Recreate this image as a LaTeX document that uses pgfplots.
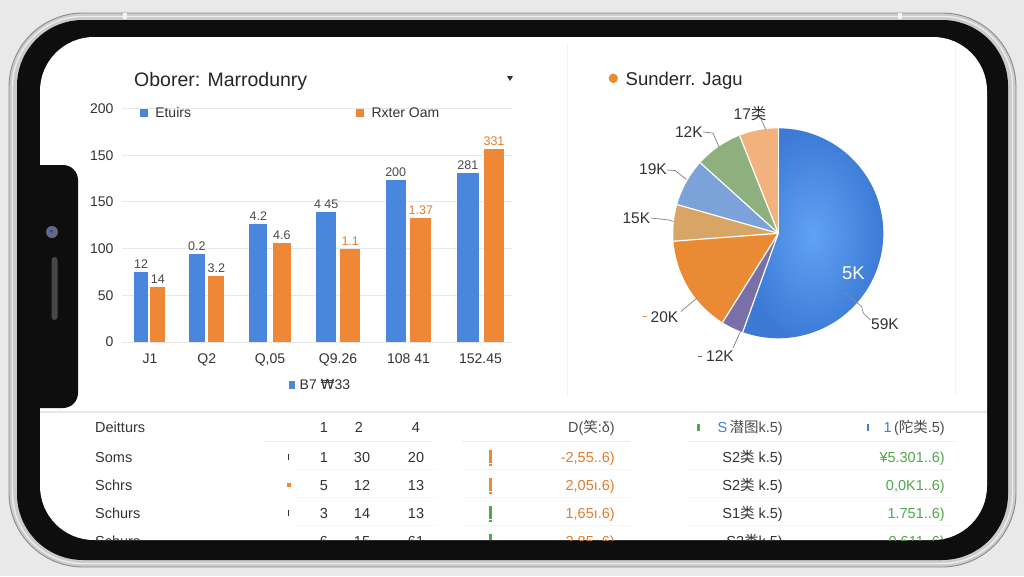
\documentclass[border=0pt]{standalone}
\usepackage{fontspec}
\setmainfont{Liberation Sans}
\newfontfamily\cjk{Noto Sans CJK SC}
\newfontfamily\dejavu{DejaVu Sans}
\usepackage{pgfplots}
\pgfplotsset{compat=1.18}
\definecolor{bgray}{HTML}{E9E9E9}
\definecolor{rim}{HTML}{CBCBCB}
\definecolor{bezel}{HTML}{0E0E0E}
\definecolor{txt}{HTML}{333333}
\definecolor{txtl}{HTML}{4A4A4A}
\definecolor{barblue}{HTML}{4A86DC}
\definecolor{barorange}{HTML}{EE8836}
\definecolor{lblorange}{HTML}{E07E2C}
\definecolor{tgreen}{HTML}{4FA84A}
\definecolor{tblue}{HTML}{3F7FD8}
\definecolor{pblue}{HTML}{4E8DE6}
\definecolor{ppurple}{HTML}{7A70A8}
\definecolor{porange}{HTML}{EA8A35}
\definecolor{ptan}{HTML}{D7A565}
\definecolor{plblue}{HTML}{7BA2D9}
\definecolor{pgreen}{HTML}{8EB07F}
\definecolor{ppeach}{HTML}{F2B27E}
\newcommand\fs[1]{\fontsize{#1}{#1}\selectfont}
% pie shares (percent)
\def\pA{55.5}\def\pB{3.4}\def\pC{14.9}\def\pD{5.6}\def\pE{7.3}\def\pF{7.3}\def\pG{6.0}
\begin{document}
\begin{tikzpicture}
\useasboundingbox (0pt,0pt) rectangle (1024pt,-576pt);
\begin{scope}[x=1pt,y=-1pt]
\fill[bgray] (0,0) rectangle (1024,576);
\fill[rim, rounded corners=74pt] (9,13) rectangle (1016,567);
\draw[black!45, line width=0.9pt, rounded corners=74pt] (9,13) rectangle (1016,567);
\draw[white!85!gray, line width=1.4pt, rounded corners=70pt] (12.5,16.5) rectangle (1012.5,563.5);
\fill[white!92!gray] (123,12.5) rectangle (127,19);
\fill[white!92!gray] (898,12.5) rectangle (902,19);
\fill[bezel, rounded corners=66pt] (17,20) rectangle (1008,560);
\fill[white, rounded corners=54pt] (40,37) rectangle (987,540);
\draw[black!6, line width=1pt] (567,45) -- (567,395);
\draw[black!5, line width=1pt] (955,45) -- (955,395);
\draw[black!9, line width=1.5pt] (40,412) -- (987,412);
% titles
\node[anchor=base west, inner sep=0pt, text=black!85] at (134,86) {\fs{19.5}Oborer: Marrodunry};
\fill[txt] (507,76) -- (513,76) -- (510,81) -- cycle;
\fill[porange] (613.3,78.3) circle (4.7);
\node[anchor=base west, inner sep=0pt, text=black!85] at (625.5,85) {\fs{18.5}Sunderr. Jagu};
% bottom legend of bar chart
\fill[barblue] (288.5,380.5) rectangle (295,389);
\node[anchor=base west, inner sep=0pt, text=txt] at (299.5,389.5) {\fs{14}B7 {\dejavu ₩}33};
\end{scope}

% ---------------- bar chart ----------------
\begin{axis}[
  at={(122pt,-342pt)}, anchor=south west, scale only axis,
  width=390pt, height=233.5pt,
  xmin=122, xmax=512, ymin=0, ymax=250,
  axis line style={draw=none}, major tick style={draw=none}, minor tick style={draw=none},
  ymajorgrids, major grid style={draw=black!9, line width=0.9pt},
  ytick={0,50,100,150,200,250}, yticklabels={0,50,100,150,150,200},
  xtick={150,206.7,270,338,408.5,480.5},
  xticklabels={J1,Q2,{Q,05},Q9.26,108 41,152.45},
  tick label style={font=\fs{14}, text=txt},
  yticklabel style={xshift=-5pt},
  xticklabel style={yshift=-8pt},
  clip=false,
  /pgf/number format/assume math mode=true,
  every node near coord/.append style={font=\fs{12.5}, text=txtl},
  legend image code/.code={\fill[#1] (0pt,-4.2pt) rectangle (8.4pt,4.2pt); \path (13.5pt,0pt);},
  legend style={at={(0.045,0.98)}, anchor=west, draw=none, fill=none, font=\fs{14}, text=txt, inner sep=0pt,
    /tikz/every even column/.append style={column sep=163pt}},
  legend columns=2,
]
% blue series
\addplot[forget plot, ybar, bar shift=0pt, bar width=14,   fill=barblue, draw=none, nodes near coords={12}]   coordinates {(141,75)};
\addplot[forget plot, ybar, bar shift=0pt, bar width=15.7, fill=barblue, draw=none, nodes near coords={0.2}]  coordinates {(196.8,94)};
\addplot[forget plot, ybar, bar shift=0pt, bar width=18,   fill=barblue, draw=none, nodes near coords={4.2}]  coordinates {(258.3,126)};
\addplot[forget plot, ybar, bar shift=0pt, bar width=19.7, fill=barblue, draw=none, nodes near coords={4 45}] coordinates {(326.2,139)};
\addplot[forget plot, ybar, bar shift=0pt, bar width=20,   fill=barblue, draw=none, nodes near coords={200}]  coordinates {(395.7,173)};
\addplot[forget plot, ybar, bar shift=0pt, bar width=21.7, fill=barblue, draw=none, nodes near coords={281}]  coordinates {(467.8,181)};
% orange series
\addplot[forget plot, ybar, bar shift=0pt, bar width=15,   fill=barorange, draw=none, nodes near coords={14}]   coordinates {(157.8,58.5)};
\addplot[forget plot, ybar, bar shift=0pt, bar width=16,   fill=barorange, draw=none, nodes near coords={3.2}]  coordinates {(216.3,71)};
\addplot[forget plot, ybar, bar shift=0pt, bar width=18.3, fill=barorange, draw=none, nodes near coords={4.6}]  coordinates {(281.8,105.6)};
\addplot[forget plot, ybar, bar shift=0pt, bar width=19.7, fill=barorange, draw=none, nodes near coords={1.1},
  every node near coord/.append style={text=lblorange}] coordinates {(350.2,100)};
\addplot[forget plot, ybar, bar shift=0pt, bar width=21,   fill=barorange, draw=none, nodes near coords={1.37},
  every node near coord/.append style={text=lblorange}] coordinates {(420.8,133)};
\addplot[forget plot, ybar, bar shift=0pt, bar width=20,   fill=barorange, draw=none, nodes near coords={331},
  every node near coord/.append style={text=lblorange}] coordinates {(494,207)};
\addlegendimage{fill=barblue, draw=none}
\addlegendentry{Etuirs}
\addlegendimage{fill=barorange, draw=none}
\addlegendentry{Rxter Oam}
\end{axis}

% ---------------- pie chart ----------------
\pgfmathsetmacro\aA{90-3.6*\pA}
\pgfmathsetmacro\aB{\aA-3.6*\pB}
\pgfmathsetmacro\aC{\aB-3.6*\pC}
\pgfmathsetmacro\aD{\aC-3.6*\pD}
\pgfmathsetmacro\aE{\aD-3.6*\pE}
\pgfmathsetmacro\aF{\aE-3.6*\pF}
\pgfmathsetmacro\aG{\aF-3.6*\pG}
\begin{axis}[
  at={(778.3pt,-233.3pt)}, anchor=center, scale only axis,
  width=230pt, height=230pt, xmin=-115, xmax=115, ymin=-115, ymax=115,
  hide axis, clip=false]
\shade[inner color={rgb,255:red,96;green,162;blue,244}, outer color={rgb,255:red,60;green,122;blue,214}]
  (axis cs:0,0) -- ++(90:105pt) arc[start angle=90, end angle=\aA, radius=105pt] -- cycle;
\fill[ppurple] (axis cs:0,0) -- ++(\aA:105pt) arc[start angle=\aA, end angle=\aB, radius=105pt] -- cycle;
\fill[porange] (axis cs:0,0) -- ++(\aB:105pt) arc[start angle=\aB, end angle=\aC, radius=105pt] -- cycle;
\fill[ptan]    (axis cs:0,0) -- ++(\aC:105pt) arc[start angle=\aC, end angle=\aD, radius=105pt] -- cycle;
\fill[plblue]  (axis cs:0,0) -- ++(\aD:105pt) arc[start angle=\aD, end angle=\aE, radius=105pt] -- cycle;
\fill[pgreen]  (axis cs:0,0) -- ++(\aE:105pt) arc[start angle=\aE, end angle=\aF, radius=105pt] -- cycle;
\fill[ppeach]  (axis cs:0,0) -- ++(\aF:105pt) arc[start angle=\aF, end angle=\aG, radius=105pt] -- cycle;
\draw[white, line width=1.2pt] (axis cs:0,0) -- ++(90:105pt);
\draw[white, line width=1.2pt] (axis cs:0,0) -- ++(\aA:105pt);
\draw[white, line width=1.2pt] (axis cs:0,0) -- ++(\aB:105pt);
\draw[white, line width=1.2pt] (axis cs:0,0) -- ++(\aC:105pt);
\draw[white, line width=1.2pt] (axis cs:0,0) -- ++(\aD:105pt);
\draw[white, line width=1.2pt] (axis cs:0,0) -- ++(\aE:105pt);
\draw[white, line width=1.2pt] (axis cs:0,0) -- ++(\aF:105pt);
\end{axis}

\begin{scope}[x=1pt,y=-1pt]
\begin{scope}[every node/.style={inner sep=0pt, text=txt, font=\fs{15.5}}]
\node[anchor=base] at (750,119) {17{\cjk 类}};
\draw[black!50, line width=0.7pt] (761,119) -- (765.5,129);
\node[anchor=base] at (688.8,137.2) {12K};
\draw[black!50, line width=0.7pt] (703,132) -- (713,133) -- (719,147);
\node[anchor=base] at (653,174.8) {19K};
\draw[black!50, line width=0.7pt] (667,170) -- (675,170.5) -- (686.5,179.5);
\node[anchor=base] at (636.3,223.2) {15K};
\draw[black!50, line width=0.7pt] (651,218) -- (669,220) -- (673.5,221.5);
\draw[porange, line width=1.2pt] (642.5,316.5) -- (647,316.5);
\node[anchor=base] at (664.5,322.2) {20K};
\draw[black!50, line width=0.7pt] (681,311.5) -- (697,298);
\draw[black!60, line width=1pt] (698,356.5) -- (702,356.5);
\node[anchor=base] at (720,361.5) {12K};
\draw[black!50, line width=0.7pt] (733,348) -- (742,328);
\node[anchor=base, text=white, font=\fs{18.5}] at (853.5,279.5) {5K};
\node[anchor=base] at (885,329.5) {59K};
\draw[black!45, line width=0.7pt] (870.5,320) -- (863.5,313.5) -- (861.5,306.5) -- (845,292.5);
\end{scope}

% ---------------- table ----------------
\begin{scope}
\clip[rounded corners=54pt] (40,37) rectangle (987,540);
\foreach \yy in {441}{
  \draw[black!8, line width=1pt] (265,\yy) -- (433,\yy);
  \draw[black!8, line width=1pt] (462,\yy) -- (630,\yy);
  \draw[black!8, line width=1pt] (687,\yy) -- (955,\yy);
}
\foreach \yy in {469,497,525}{
  \draw[black!4, line width=0.8pt] (295,\yy) -- (437,\yy);
  \draw[black!4, line width=0.8pt] (462,\yy) -- (630,\yy);
  \draw[black!4, line width=0.8pt] (687,\yy) -- (955,\yy);
}
\begin{scope}[every node/.style={inner sep=0pt, text=txt, font=\fs{14.5}}]
% header
\node[anchor=base west] at (95,432) {Deitturs};
\node[anchor=base] at (324,432) {1};
\node[anchor=base] at (359,432) {2};
\node[anchor=base] at (416,432) {4};
\node[anchor=base east, text=black!70] at (615,432) {D({\cjk 笑}:δ)};
\fill[tgreen] (697,424) rectangle (699.5,431);
\node[anchor=base east, text=black!70] at (783,432) {\textcolor{tblue}{S}\,{\cjk 潜图}k.5)};
\fill[tblue] (866.5,424) rectangle (869,431);
\node[anchor=base east, text=black!70] at (945,432) {\textcolor{tblue}{1}\,({\cjk 陀类}.5)};
% row 1
\node[anchor=base west] at (95,462) {Soms};
\fill[txt] (287.5,454) rectangle (289.2,459.5);
\node[anchor=base] at (324,462) {1};
\node[anchor=base] at (362,462) {30};
\node[anchor=base] at (416,462) {20};
\fill[porange] (488.5,450) rectangle (491.5,462.5);
\fill[porange] (488.5,464) rectangle (491.5,466);
\node[anchor=base east, text=lblorange] at (615,462) {-2,55..6)};
\node[anchor=base east] at (783,462) {S2{\cjk 类} k.5)};
\node[anchor=base east, text=tgreen] at (945,462) {¥5.301..6)};
% row 2
\node[anchor=base west] at (95,490) {Schrs};
\fill[porange] (286.5,482.5) rectangle (290.5,487);
\node[anchor=base] at (324,490) {5};
\node[anchor=base] at (362,490) {12};
\node[anchor=base] at (416,490) {13};
\fill[porange] (488.5,478) rectangle (491.5,490.5);
\fill[porange] (488.5,492) rectangle (491.5,494);
\node[anchor=base east, text=lblorange] at (615,490) {2,05ı.6)};
\node[anchor=base east] at (783,490) {S2{\cjk 类} k.5)};
\node[anchor=base east, text=tgreen] at (945,490) {0,0K1..6)};
% row 3
\node[anchor=base west] at (95,518) {Schurs};
\fill[txt] (287.5,510) rectangle (289.2,515.5);
\node[anchor=base] at (324,518) {3};
\node[anchor=base] at (362,518) {14};
\node[anchor=base] at (416,518) {13};
\fill[tgreen] (488.5,506) rectangle (491.5,518.5);
\fill[tgreen] (488.5,520) rectangle (491.5,522);
\node[anchor=base east, text=lblorange] at (615,518) {1,65ı.6)};
\node[anchor=base east] at (783,518) {S1{\cjk 类} k.5)};
\node[anchor=base east, text=tgreen] at (945,518) {1.751..6)};
% row 4 (cut by the bezel)
\node[anchor=base west] at (95,546) {Schurs};
\node[anchor=base] at (324,546) {6};
\node[anchor=base] at (362,546) {15};
\node[anchor=base] at (416,546) {61};
\fill[tgreen] (488.5,534) rectangle (491.5,546.5);
\node[anchor=base east, text=lblorange] at (615,546) {2,85..6)};
\node[anchor=base east] at (783,546) {S2{\cjk 类}k.5)};
\node[anchor=base east, text=tgreen] at (945,546) {0,611..6)};
\end{scope}
\end{scope}

% notch, camera, speaker
\fill[bezel, rounded corners=15pt] (25,165) rectangle (78,408);
\fill[black!80!blue!60] (52,232) circle (6);
\fill[blue!70!cyan] (51.2,231.2) circle (1.6);
\fill[black!72, rounded corners=3pt] (51.5,257) rectangle (57.5,320);
\end{scope}
\end{tikzpicture}
\end{document}
